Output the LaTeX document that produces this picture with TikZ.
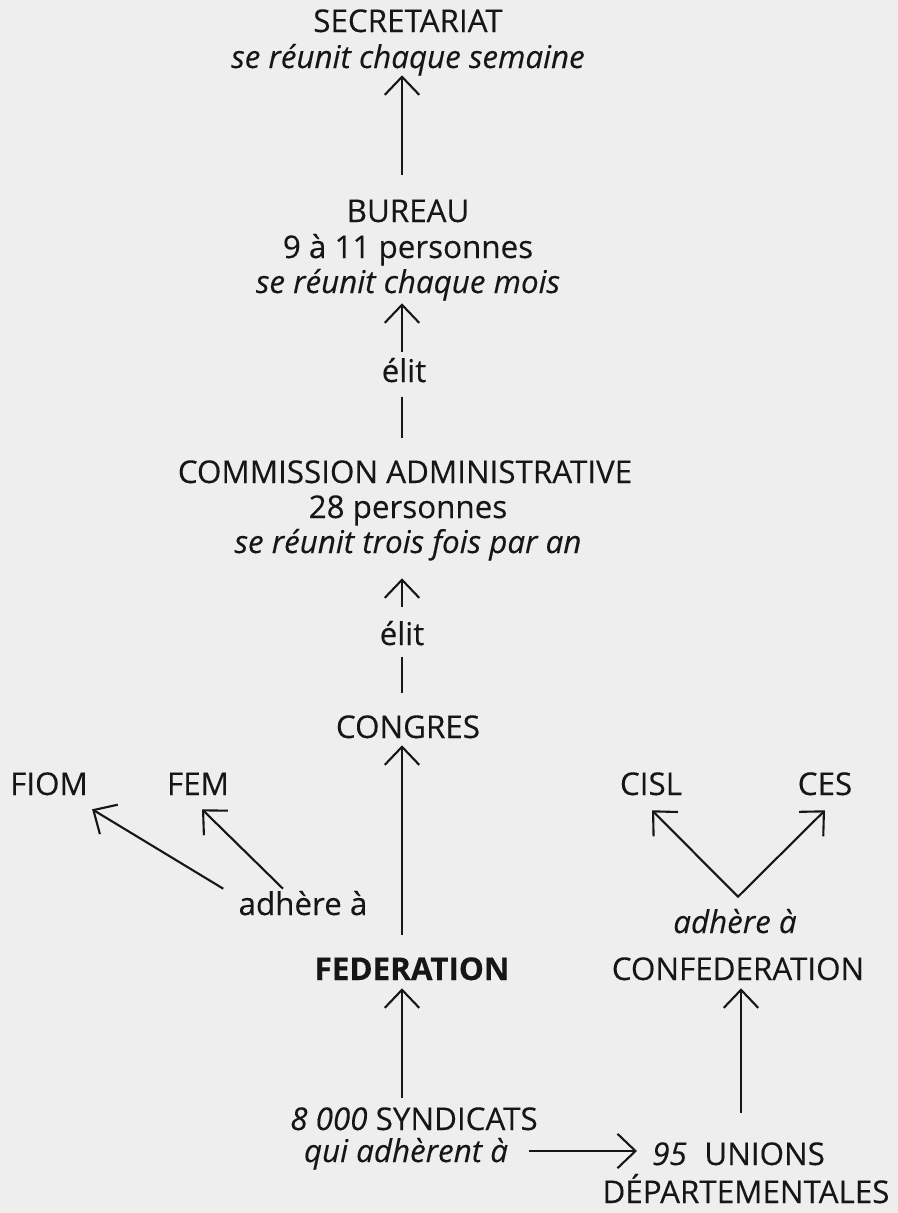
\documentclass[tikz,border=0pt]{standalone}
\usepackage{fontspec}
\setmainfont{Open Sans}[FakeBold=0.25]
\usepackage{xcolor}
\usetikzlibrary{arrows.meta,calc}

\definecolor{ink}{RGB}{22,22,22}
\definecolor{paper}{RGB}{238,238,238}

\tikzset{
    lbl/.style={inner sep=0pt, anchor=base, text height=0.55cm, text depth=0pt,
        font=\fontsize{22.3}{26}\selectfont, text=ink},
    link/.style={line width=1.5pt, draw=ink, -{Straight Barb[length=4.5mm,width=8.6mm]}},
    plain/.style={line width=1.5pt, draw=ink},
}

\begin{document}
\begin{tikzpicture}[x=0.025cm, y=-0.025cm]
    % page
    \fill[paper] (0,0) rectangle (898,1213);
    \useasboundingbox (0,0) rectangle (898,1213);
    \coordinate (spine) at (402,0);

    % Secretariat and Bureau
    \node[lbl] (sec) at (408,32) {SECRETARIAT};
    \node[lbl] (secfreq) at (408,68) {\itshape se réunit chaque semaine};
    \node[lbl] (bur) at (408,222) {BUREAU};
    \node[lbl] (burnb) at (408,258) {9 à 11 personnes};
    \node[lbl] (burfreq) at (408,293) {\itshape se réunit chaque mois};
    \node[lbl] (elit1) at (404,382) {élit};

    % Commission administrative
    \node[lbl] (com) at (405,483) {COMMISSION ADMINISTRATIVE};
    \node[lbl] (comnb) at (408,518) {28 personnes};
    \node[lbl] (comfreq) at (408,553) {\itshape se réunit trois fois par an};
    \node[lbl] (elit2) at (402,645) {élit};
    \node[lbl] (cong) at (408,738) {CONGRES};

    % International bodies
    \node[lbl] (fiom) at (49,795) {FIOM};
    \node[lbl] (fem) at (198,795) {FEM};
    \node[lbl] (cisl) at (651,795) {CISL};
    \node[lbl] (ces) at (825,795) {CES};
    \node[lbl] (adh1) at (303,915) {adhère à};
    \node[lbl] (adh2) at (735,933) {\itshape adhère à};

    % Federation, confederation
    \node[lbl] (fed) at (412,980) {\bfseries FEDERATION};
    \node[lbl] (conf) at (738,980) {CONFEDERATION};

    % Syndicats and unions
    \node[lbl] (synd) at (414,1130) {\textit{8 000} SYNDICATS};
    \node[lbl] (synq) at (406,1162) {\itshape qui adhèrent à};
    \node[lbl, anchor=base west] (unions) at (652,1165) {\textit{95}\hspace{0.3em} UNIONS};
    \node[lbl] (dep) at (746,1203) {DÉPARTEMENTALES};

    % Vertical chain
    \draw[link] ($(bur.north -| spine)+(0,-25)$) -- ($(secfreq.south -| spine)+(0,7)$);
    \draw[link] ($(elit1.north -| spine)+(0,-8)$) -- ($(burfreq.south -| spine)+(0,10)$);
    \draw[plain] ($(com.north -| spine)+(0,-23)$) -- ($(elit1.south -| spine)+(0,15)$);
    \draw[link] ($(elit2.north -| spine)+(0,-16)$) -- ($(comfreq.south -| spine)+(0,25)$);
    \draw[plain] ($(cong.north -| spine)+(0,-23)$) -- ($(elit2.south -| spine)+(0,12)$);
    \draw[link] ($(fed.north -| spine)+(0,-23)$) -- ($(cong.south -| spine)+(0,7)$);
    \draw[link] ($(synd.north -| spine)+(0,-10)$) -- ($(fed.south -| spine)+(0,8)$);

    % Federation memberships
    \draw[link] ($(adh1.north west)+(-15,-4)$) -- ($(fiom.south east)+(4,14)$);
    \draw[link] ($(adh1.north)+(-20,-4)$) -- ($(fem.south)+(4,14)$);

    % Confederation memberships
    \coordinate (vtx) at ($(adh2.north)+(3,-14)$);
    \draw[line width=1.5pt, draw=ink, {Straight Barb[length=4.5mm,width=8.6mm]}-{Straight Barb[length=4.5mm,width=8.6mm]}]
        ($(cisl.south)+(1,15)$) -- (vtx) -- ($(ces.south)+(0,15)$);
    \draw[link] ($(unions.north -| conf.south)+(3,-30)$) -- ($(conf.south)+(3,8)$);
    \draw[link] ($(synq.east)+(21,0)$) -- ($(synq.east -| unions.west)+(-15,0)$);
\end{tikzpicture}
\end{document}
